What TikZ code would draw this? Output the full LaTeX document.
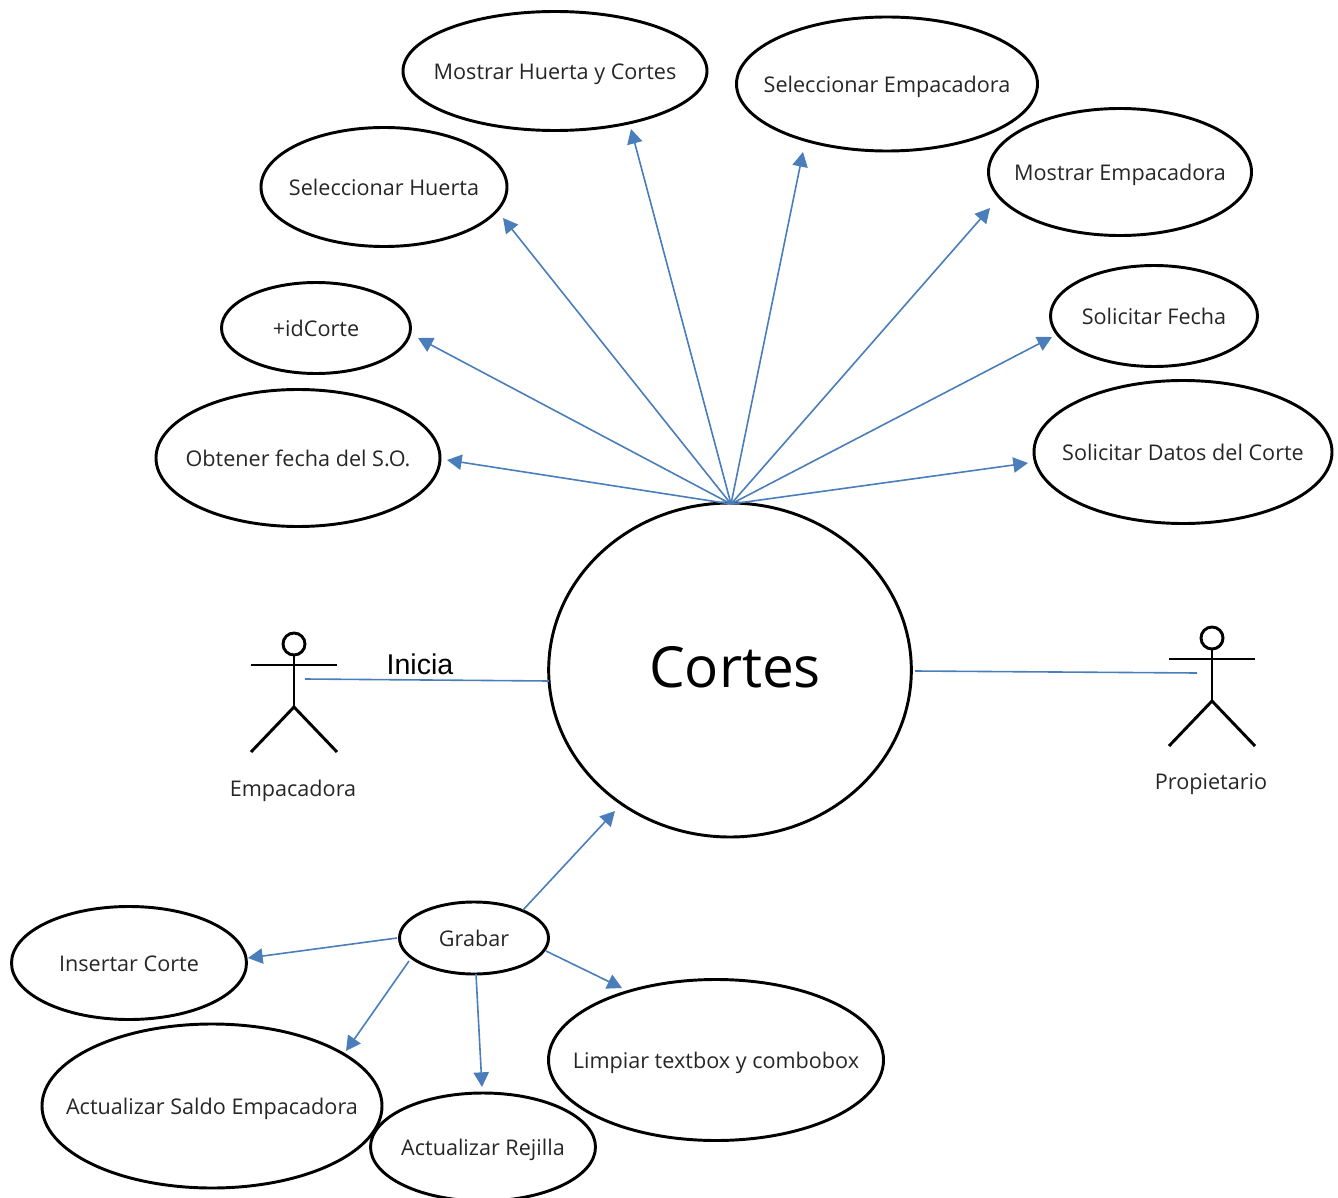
\documentclass[tikz,border=0pt]{standalone}
\usepackage{fontspec}
\setmainfont{Open Sans}
\newfontfamily\arialfont{Liberation Sans}
\usetikzlibrary{shapes.geometric,arrows.meta}
\definecolor{conn}{HTML}{4A7EBB}
\tikzset{
  x=0.75pt,y=-0.75pt,
  uc/.style={draw=black,line width=2.2pt,ellipse,inner sep=0pt,minimum width=#1},
  lab/.style={font=\fontsize{16.2}{19}\selectfont,text=black!85,text height=12pt,text depth=3.5pt,inner sep=0pt},
  ar/.style={draw=conn,line width=1.2pt,-{Triangle[length=11pt,width=11.5pt]}},
  ln/.style={draw=conn,line width=1.2pt},
  stick/.style={draw=black,line width=2.2pt},
}
\newcommand{\UC}[6]{% name cx cy w h text
  \node[uc=#4*0.75pt,minimum height=#5*0.75pt] (#1) at (#2,#3) {};
  \node[lab] (#1t) at (#2,#3+3) {#6};}
\newcommand{\actor}[3]{% name cx top
  \begin{scope}[shift={(#2,#3)}]
    \draw[stick] (0,11) circle[radius=11];
    \draw[stick] (0,22) -- (0,74);
    \draw[stick] (-43,32) -- (43,32);
    \draw[stick] (-43,119) -- (0,74) -- (43,119);
  \end{scope}
  \coordinate (#1) at (#2,#3);}
\begin{document}
\begin{tikzpicture}
\useasboundingbox (0,0) rectangle (1338,1198);
\node[uc=272pt,minimum height=250.5pt] (cortes) at (730,670) {};
\node[font=\fontsize{42.5}{48}\selectfont,text=black] (cortest) at (735,667) {Cortes};
\UC{mh}{555}{71}{304}{119}{Mostrar Huerta y Cortes}
\UC{se}{887}{84}{301}{134}{Seleccionar Empacadora}
\UC{sh}{384}{187}{246}{119}{Seleccionar Huerta}
\UC{me}{1120}{172}{263}{127}{Mostrar Empacadora}
\UC{id}{316}{328}{189}{91}{+idCorte}
\UC{sf}{1154}{316}{207}{101}{Solicitar Fecha}
\UC{of}{298}{458}{284}{137}{Obtener fecha del S.O.}
\UC{sd}{1183}{452}{298}{143}{Solicitar Datos del Corte}
\UC{gr}{474}{938}{149}{72}{Grabar}
\UC{ic}{129}{963}{235}{113}{Insertar Corte}
\UC{lt}{716}{1060}{335}{161}{Limpiar textbox y combobox}
\UC{as}{212}{1106}{340}{164}{Actualizar Saldo Empacadora}
\UC{ar}{483}{1147}{225}{108}{Actualizar Rejilla}
\actor{ea}{294}{633}
\actor{pa}{1212}{627}
\node[lab] (ename) at (293,791) {Empacadora};
\node[lab] (pname) at (1211,784) {Propietario};
\node[font=\arialfont\fontsize{21.4}{24}\selectfont,text=black] (ini) at (420,664) {Inicia};
\coordinate (hub) at (731,504);
\coordinate (ga) at (305,679);
\coordinate (gb) at (549,681);
\coordinate (gc) at (915,671);
\coordinate (gd) at (1197,673);
\draw[ln] (ga) -- (gb);
\draw[ln] (gc) -- (gd);
\coordinate (t1) at (447,460);
\coordinate (t2) at (418,338);
\coordinate (t3) at (503,218);
\coordinate (t4) at (631,129);
\coordinate (t5) at (803,152);
\coordinate (t6) at (990,208);
\coordinate (t7) at (1052,337);
\coordinate (t8) at (1028,463);
\foreach \t in {t1,t2,t3,t4,t5,t6,t7,t8} \draw[ar] (hub) -- (\t);
\coordinate (g1) at (523,910);
\coordinate (g2) at (615,811);
\coordinate (g3) at (397,938);
\coordinate (g4) at (248,958);
\coordinate (g5) at (409,961);
\coordinate (g6) at (346,1051);
\coordinate (g7) at (476,974);
\coordinate (g8) at (482,1087);
\coordinate (g9) at (546,951);
\coordinate (g10) at (622,988);
\draw[ar] (g1) -- (g2);
\draw[ar] (g3) -- (g4);
\draw[ar] (g5) -- (g6);
\draw[ar] (g7) -- (g8);
\draw[ar] (g9) -- (g10);
\end{tikzpicture}
\end{document}
